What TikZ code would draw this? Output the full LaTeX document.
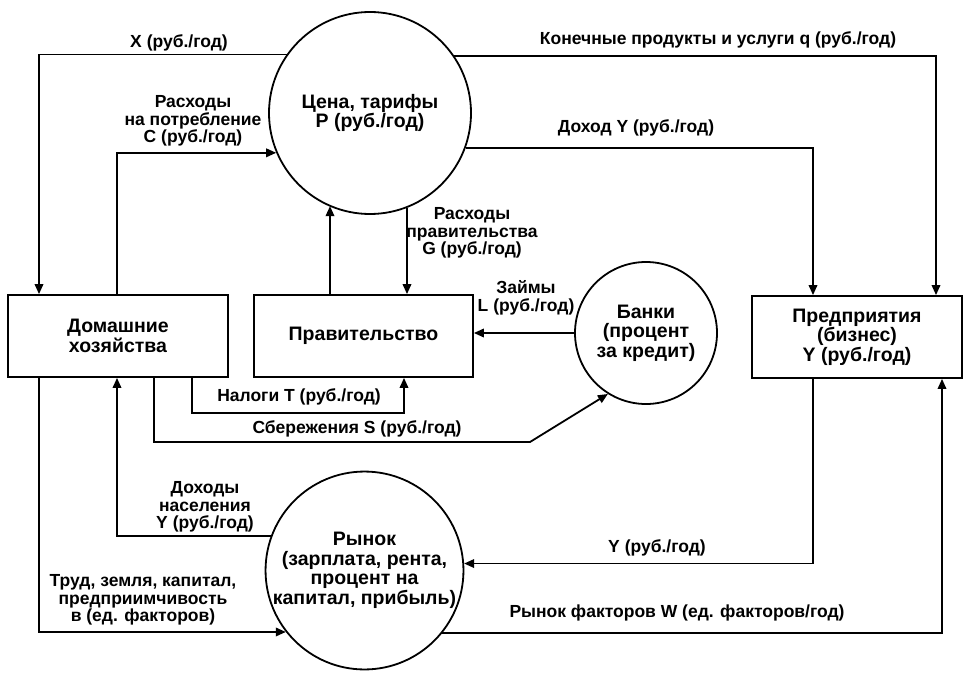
\documentclass[tikz,border=0pt]{standalone}
\usepackage{fontspec}
\setmainfont{Liberation Sans}
\usetikzlibrary{arrows.meta}
\newcommand\hubfont{\fontsize{19.5}{19.5}\selectfont\bfseries}
\newcommand\tagfont{\fontsize{17.5}{17.5}\selectfont\bfseries}
\begin{document}
\begin{tikzpicture}[x=1pt,y=-1pt,
  flow/.style={line width=1.8pt},
  arr/.style={flow,-{Triangle[length=10pt,width=8.5pt]}},
  box/.style={draw,line width=1.8pt,rectangle,minimum height=82pt,align=center,font=\hubfont},
  hub/.style={draw,line width=1.8pt,circle,inner sep=0pt,align=center,font=\hubfont},
  lbl/.style={align=center,font=\tagfont,inner sep=0pt}
]
\useasboundingbox (0,0) rectangle (963,674);

% sectors and markets
\node[hub,minimum size=202pt] (price) at (370,113) {Цена, тарифы\\Р (руб./год)};
\node[hub,minimum size=142pt] (bank) at (646,333) {Банки\\(процент\\за кредит)};
\node[hub,minimum size=195pt] (market) at (364.5,570.5) {Рынок\\(зарплата, рента,\\процент на\\капитал, прибыль)};
\node[box,minimum width=220pt] (hh) at (118,336) {Домашние\\хозяйства};
\node[box,minimum width=219pt] (gov) at (363.5,336) {Правительство};
\node[box,minimum width=210pt] (ent) at (857,337) {Предприятия\\(бизнес)\\Y (руб./год)};

\coordinate (sbend) at (530,442);

% money and goods flows
\draw[arr] (price.145.25) -| ([xshift=-79]hh.north);
\draw[arr] (price.34.75) -| ([xshift=79]ent.north);
\draw[arr] (price.340.7) -| ([xshift=-44]ent.north);
\draw[arr] ([xshift=-1]hh.north) |- (price.203);
\draw[arr] ([xshift=-33.5]gov.north) -- ([xshift=-33.5]gov.north |- price.246.4);
\draw[arr] ([xshift=43.5]gov.north |- price.291.7) -- ([xshift=43.5]gov.north);
\draw[arr] (bank.180) -- (bank.180 -| gov.east);
\draw[arr] ([xshift=74]hh.south) -- ++(0,35) -| ([xshift=40.5]gov.south);
\draw[arr] ([xshift=36]hh.south) |- (sbend) -- (bank.238);
\draw[arr] ([xshift=-79]hh.south) |- (market.218.4);
\draw[arr] (market.160.5) -| ([xshift=-1]hh.south);
\draw[arr] ([xshift=-44]ent.south) |- (market.4.4);
\draw[arr] (market.321.6) -| ([xshift=85]ent.south);

% flow labels
\node[lbl] (lx) at (179,43) {X (руб./год)};
\node[lbl] (lq) at (718,40) {Конечные продукты и услуги q (руб./год)};
\node[lbl] (lc) at (193,121) {Расходы\\на потребление\\С (руб./год)};
\node[lbl] (ly) at (636,128) {Доход Y (руб./год)};
\node[lbl] (lg) at (472,233) {Расходы\\правительства\\G (руб./год)};
\node[lbl] (ll) at (526,298) {Займы\\L (руб./год)};
\node[lbl] (lt) at (299,397) {Налоги Т (руб./год)};
\node[lbl] (ls) at (357,429) {Сбережения S (руб./год)};
\node[lbl] (lh) at (205,507) {Доходы\\населения\\Y (руб./год)};
\node[lbl] (lm) at (657,548) {Y (руб./год)};
\node[lbl] (lf) at (143,600) {Труд, земля, капитал,\\предприимчивость\\в (ед. факторов)};
\node[lbl] (lw) at (677,613) {Рынок факторов W (ед. факторов/год)};
\end{tikzpicture}
\end{document}
